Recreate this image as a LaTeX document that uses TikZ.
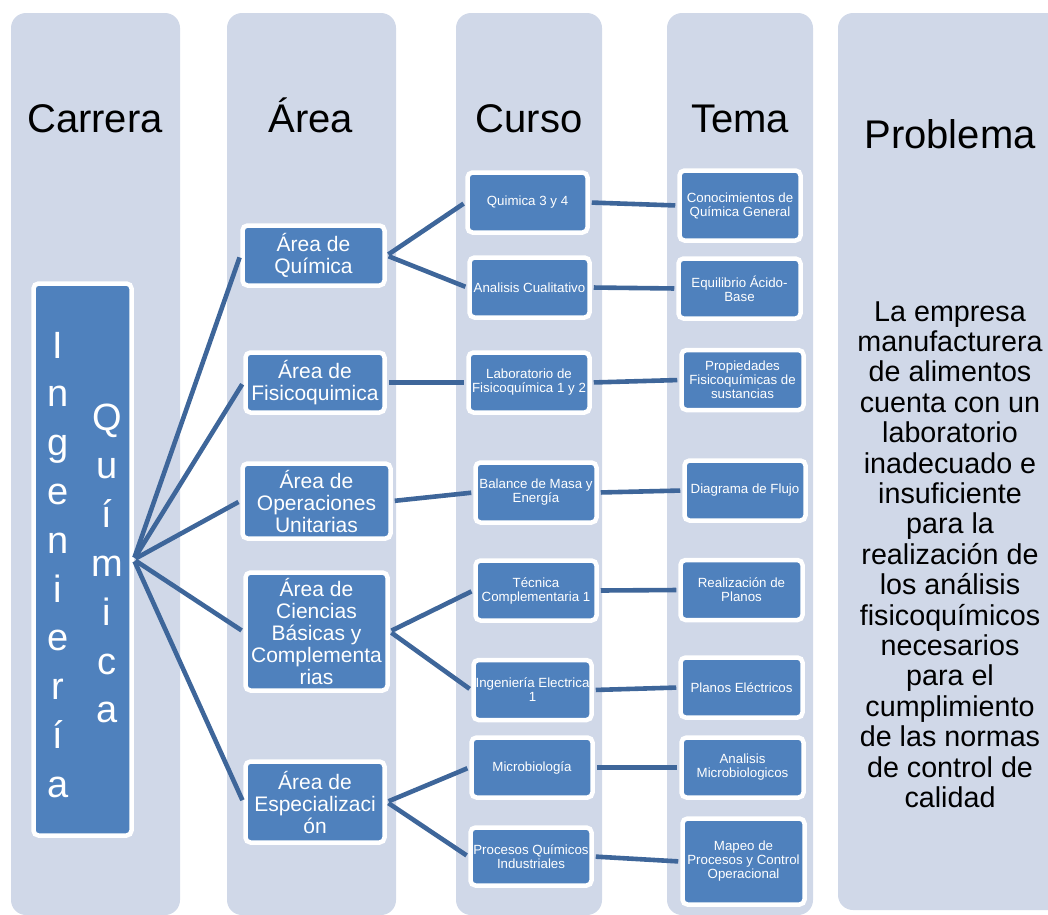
\documentclass[tikz,border=0pt]{standalone}
\usepackage{fontspec}
\setmainfont{Liberation Sans}
\usetikzlibrary{positioning}
\definecolor{lanegray}{RGB}{208,216,232}
\definecolor{boxblue}{RGB}{79,129,189}
\definecolor{linkblue}{RGB}{62,102,154}

\begin{document}
\begin{tikzpicture}[x=1pt,y=-1pt,
  every node/.style={inner sep=1pt},
  lane/.style={fill=lanegray,rounded corners=15pt},
  header/.style={font=\fontsize{40}{48}\selectfont,anchor=base},
  bluebox/.style={draw=white,line width=4.5pt,fill=boxblue,rounded corners=5pt,text=white,align=center},
  areabox/.style={bluebox,font=\fontsize{21}{22}\selectfont},
  smallbox/.style={bluebox,font=\fontsize{13.3}{14}\selectfont,minimum width=121pt,minimum height=60pt},
  vletter/.style={text=white,font=\fontsize{38}{40}\selectfont,anchor=base},
  link/.style={draw=linkblue,line width=4.6pt,shorten <=2pt,shorten >=2pt}
]
\useasboundingbox (0,0) rectangle (1048,914);

% Lanes
\fill[lane] (11,13) rectangle (180,915);
\fill[lane] (227,13) rectangle (396,915);
\fill[lane] (456,13) rectangle (602,915);
\fill[lane] (667,13) rectangle (813,915);
\fill[lane] (838,13) rectangle (1070,910);

% Headers
\node[header] (hCar) at (95,132) {Carrera};
\node[header] (hAre) at (311,132) {Área};
\node[header] (hCur) at (529,132) {Curso};
\node[header] (hTem) at (740,132) {Tema};
\node[header] (hPro) at (950,148) {Problema};

% Carrera
\node[bluebox,minimum width=98pt,minimum height=552pt] (iq) at (82.5,559.5) {};
\foreach \ch [count=\i from 0] in {I,n,g,e,n,i,e,r,í,a}
  \node[vletter] (ing\i) at (58,{358+48.8*\i}) {\ch};
\foreach \ch [count=\i from 0] in {Q,u,í,m,i,c,a}
  \node[vletter] (qui\i) at (107,{430+48.8*\i}) {\ch};

% Areas
\node[areabox,minimum width=142pt,minimum height=60pt] (aQui) at (313.5,255.5) {Área de\\Química};
\node[areabox,minimum width=139pt,minimum height=60pt] (aFis) at (315,382.5) {Área de\\Fisicoquimica};
\node[areabox,minimum width=148pt,minimum height=75pt] (aOpe) at (316.5,501) {Área de\\Operaciones\\Unitarias};
\node[areabox,minimum width=142pt,minimum height=118pt] (aCie) at (316.5,631.5) {Área de\\Ciencias\\Básicas y\\Complementa\\rias};
\node[areabox,minimum width=139pt,minimum height=81pt] (aEsp) at (315,802) {Área de\\Especializaci\\ón};

% Cursos
\node[smallbox,minimum width=120pt] (cQui) at (527.5,202.5) {Quimica 3 y 4};
\node[smallbox,minimum width=120pt] (cAna) at (529.5,287.5) {Analisis Cualitativo};
\node[smallbox] (cLab) at (529,382.5) {Laboratorio de\\Fisicoquímica 1 y 2};
\node[smallbox] (cBal) at (536,492.5) {Balance de Masa y\\Energía};
\node[smallbox] (cTec) at (536,590.5) {Técnica\\Complementaria 1};
\node[smallbox,minimum width=118pt] (cIng) at (532.5,690) {Ingeniería Electrica\\1};
\node[smallbox] (cMic) at (532,767.5) {Microbiología};
\node[smallbox,minimum height=58pt] (cPro) at (531,856.5) {Procesos Químicos\\Industriales};

% Temas
\node[smallbox,minimum height=70pt] (tCon) at (740,205.5) {Conocimientos de\\Química General};
\node[smallbox,minimum width=122pt] (tEqu) at (739.5,288.5) {Equilibrio Ácido-\\Base};
\node[smallbox,minimum width=122pt] (tPro) at (742.5,380) {Propiedades\\Fisicoquímicas de\\sustancias};
\node[smallbox] (tDia) at (745,490.5) {Diagrama de Flujo};
\node[smallbox,minimum width=122pt] (tRea) at (741.5,590) {Realización de\\Planos};
\node[smallbox,minimum width=122pt] (tPla) at (741.5,687.5) {Planos Eléctricos};
\node[smallbox,minimum width=122pt] (tMic) at (742.5,767.5) {Analisis\\Microbiologicos};
\node[smallbox,minimum width=122pt,minimum height=86pt] (tMap) at (743.5,861.5) {Mapeo de\\Procesos y Control\\Operacional};

% Problema
\node[font=\fontsize{28.7}{30.4}\selectfont,align=center] (prob) at (950,554.5) {La empresa\\manufacturera\\de alimentos\\cuenta con un\\laboratorio\\inadecuado e\\insuficiente\\para la\\realización de\\los análisis\\fisicoquímicos\\necesarios\\para el\\cumplimiento\\de las normas\\de control de\\calidad};

% Links
\foreach \a in {aQui,aFis,aOpe,aCie,aEsp}
  \draw[link] (iq.east) -- (\a.west);
\foreach \a/\c in {aQui/cQui,aQui/cAna,aFis/cLab,aOpe/cBal,aCie/cTec,aCie/cIng,aEsp/cMic,aEsp/cPro}
  \draw[link] (\a.east) -- (\c.west);
\foreach \c/\t in {cQui/tCon,cAna/tEqu,cLab/tPro,cBal/tDia,cTec/tRea,cIng/tPla,cMic/tMic,cPro/tMap}
  \draw[link] (\c.east) -- (\t.west);
\end{tikzpicture}
\end{document}
